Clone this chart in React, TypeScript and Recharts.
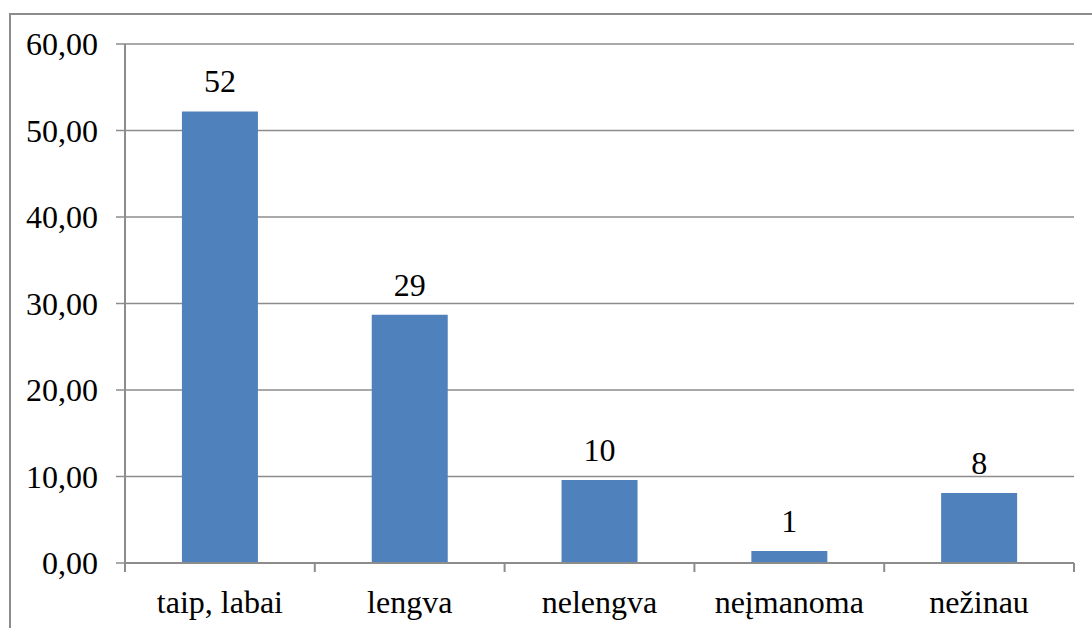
import React from 'react';
import { BarChart, Bar, XAxis, YAxis, CartesianGrid, LabelList } from 'recharts';

const categories = ['taip, labai', 'lengva', 'nelengva', 'neįmanoma', 'nežinau'];
const values = [52.2, 28.7, 9.6, 1.4, 8.1];
const yTicks = [0, 10, 20, 30, 40, 50, 60];

const data = categories.map((name, i) => ({ name, value: values[i] }));

const W = 1092;
const H = 628;
const MARGIN = { top: 44, right: 18, bottom: 5, left: 0 };
const Y_AXIS_W = 125;
const TICK = 9;
const GRAY = '#8c8c8c';
const FONT = 'Liberation Serif';
const FS = 32;

const bandWidth = (W - MARGIN.left - MARGIN.right - Y_AXIS_W) / categories.length;

const CategoryTick = (props: any) => {
  const { x, y, payload, index } = props;
  const axisY = y - TICK;
  const left = x - bandWidth / 2;
  const right = x + bandWidth / 2;
  return (
    <g>
      <line x1={left} y1={axisY} x2={left} y2={axisY + TICK} stroke={GRAY} strokeWidth={2} />
      {index === categories.length - 1 && (
        <line x1={right} y1={axisY} x2={right} y2={axisY + TICK} stroke={GRAY} strokeWidth={2} />
      )}
      <text x={x} y={axisY + 50} textAnchor="middle" fill="#000" style={{ fontSize: FS, fontFamily: FONT }}>
        {payload.value}
      </text>
    </g>
  );
};

export default function App() {
  return (
    <div style={{ position: 'absolute', left: 0, top: 0, width: W, height: H, overflow: 'hidden', background: '#fff', fontFamily: FONT }}>
      <div
        style={{
          position: 'absolute',
          left: 9,
          top: 13,
          width: W + 20,
          height: H + 20,
          border: `2px solid ${GRAY}`,
        }}
      />
      <BarChart
        width={W}
        height={H}
        data={data}
        margin={MARGIN}
        barCategoryGap="30%"
        style={{ position: 'absolute', left: 0, top: 0, fontFamily: FONT }}
      >
        <CartesianGrid vertical={false} stroke={GRAY} strokeWidth={1.5} />
        <XAxis
          dataKey="name"
          height={60}
          axisLine={{ stroke: GRAY, strokeWidth: 2 }}
          tickLine={false}
          tickSize={TICK}
          tickMargin={0}
          interval={0}
          tick={<CategoryTick />}
        />
        <YAxis
          width={Y_AXIS_W}
          domain={[0, 60]}
          ticks={yTicks}
          interval={0}
          axisLine={{ stroke: GRAY, strokeWidth: 2 }}
          tickLine={{ stroke: GRAY, strokeWidth: 1.5 }}
          tickSize={TICK}
          tickMargin={18}
          tick={{ fill: '#000', fontSize: FS, style: { fontFamily: FONT } }}
          tickFormatter={(v: number) => v.toFixed(2).replace('.', ',')}
        />
        <Bar dataKey="value" fill="#4F81BD" isAnimationActive={false}>
          <LabelList
            dataKey="value"
            position="top"
            offset={19}
            formatter={(v: any) => Math.round(Number(v))}
            style={{ fill: '#000', fontSize: FS, fontFamily: FONT }}
          />
        </Bar>
      </BarChart>
    </div>
  );
}
